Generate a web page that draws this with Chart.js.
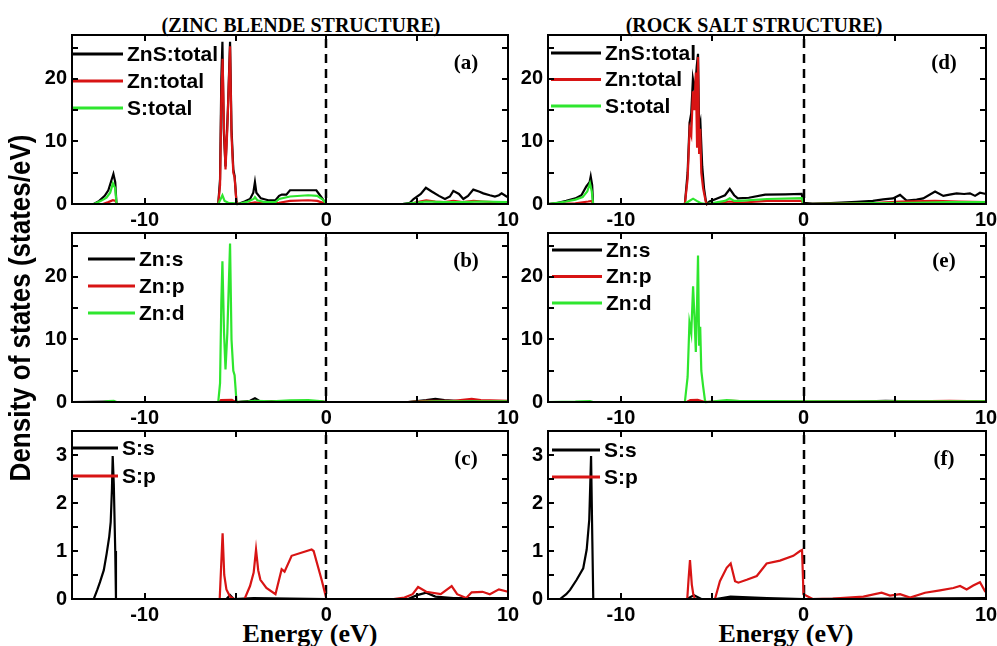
<!DOCTYPE html>
<html>
<head>
<meta charset="utf-8">
<script src="https://cdn.jsdelivr.net/npm/chart.js@4.4.1/dist/chart.umd.min.js"></script>
<style>
  body { margin: 0; background: #fff; }
  #page { position: relative; width: 997px; height: 646px; overflow: hidden; }
  canvas { position: absolute; }
  .txt { position: absolute; white-space: nowrap; color: #000; font-weight: bold; text-align: center; }
  .serif { font-family: "Liberation Serif", "Times New Roman", serif; }
  .frame { position: absolute; box-sizing: border-box; border: 2px solid #000; pointer-events: none; z-index: 5; }
  .tick { position: absolute; background: #000; pointer-events: none; z-index: 5; }
</style>
</head>
<body>
<div id="page">
  <div class="txt serif" style="left:101px; width:400px; top:14px; height:22px; line-height:22px; font-size:20px;">(ZINC BLENDE STRUCTURE)</div>
  <div class="txt serif" style="left:554px; width:400px; top:14px; height:22px; line-height:22px; font-size:20px;">(ROCK SALT STRUCTURE)</div>
  <div class="txt serif" style="left:160px; width:300px; top:619px; height:30px; line-height:30px; font-size:26px;">Energy (eV)</div>
  <div class="txt serif" style="left:636px; width:300px; top:619px; height:30px; line-height:30px; font-size:26px;">Energy (eV)</div>
  <canvas id="ylab" width="42" height="646" style="left:1px; top:0px;"></canvas>
</div>
<script>
// energy window (eV)
const energyMin = -14;
const energyMax = 10;
const energyTicks = [-10, -5, 0, 5, 10];
const yTitle = 'Density of states (states/eV)';

// ---- zinc blende: totals (a) ----
const zbZnSTotal = [[-14,0],[-12.8,0],[-12.5,0.5],[-12.2,1.3],[-12.0,2.2],[-11.85,3.6],[-11.72,4.8],[-11.62,3.5],[-11.55,0],
  [-5.95,0],[-5.85,4],[-5.78,20],[-5.72,25.9],[-5.65,12],[-5.55,6],[-5.42,15],[-5.3,25.9],[-5.22,12],[-5.12,5.5],[-5.05,4.5],[-4.95,0.5],[-4.9,0],
  [-4.75,0.1],[-4.5,0.4],[-4.2,0.8],[-4.02,1.8],[-3.93,3.5],[-3.85,1.8],[-3.6,0.9],[-3.2,0.6],[-2.8,0.6],[-2.6,1.3],[-2.45,1.5],[-2.2,1.5],[-2.0,2.2],
  [-1.0,2.2],[-0.55,2.2],[-0.3,1.2],[-0.08,0.3],[0,0],[4.2,0],[4.6,0.2],[4.8,0.8],[5.2,1.6],[5.48,2.6],[5.8,2.0],[6.2,1.3],[6.53,0.8],[6.8,1.2],
  [6.99,2.1],[7.3,1.6],[7.54,0.8],[7.8,1.3],[8.09,2.3],[8.4,2.0],[8.64,1.7],[9.0,1.4],[9.28,1.2],[9.5,1.4],[9.65,1.7],[9.92,1.2],[10,1.1]];
const zbZnTotal = [[-14,0],[-12.3,0],[-12.0,0.3],[-11.75,0.6],[-11.6,0.5],[-11.55,0],
  [-5.95,0],[-5.85,3],[-5.78,17],[-5.71,23.2],[-5.63,12],[-5.55,5.5],[-5.45,12],[-5.3,25.2],[-5.22,11],[-5.12,5],[-5.05,4.3],[-4.95,0.3],[-4.9,0],
  [-4.3,0.05],[-3.93,0.25],[-3.5,0.1],[-2.6,0.2],[-2.0,0.5],[-1.0,0.6],[-0.5,0.5],[-0.1,0.1],[0,0],
  [4.6,0],[5.0,0.3],[5.5,0.6],[6.0,0.4],[6.5,0.3],[7.0,0.5],[7.5,0.3],[8.1,0.5],[8.6,0.4],[9.2,0.3],[10,0.3]];
const zbSTotal = [[-14,0],[-12.8,0],[-12.4,0.5],[-12.1,1.0],[-11.9,1.8],[-11.75,3.3],[-11.62,2.5],[-11.55,0],
  [-5.95,0],[-5.85,0.6],[-5.72,1.4],[-5.6,0.5],[-5.4,0.2],[-5.0,0.1],[-4.9,0],[-4.7,0.1],[-4.3,0.4],[-4.0,0.8],[-3.93,1.1],[-3.8,0.6],
  [-3.4,0.3],[-2.8,0.3],[-2.6,0.8],[-2.0,1.2],[-1.0,1.4],[-0.5,1.3],[-0.2,0.7],[0,0],[4.2,0],[4.6,0.1],[5.5,0.4],[6.5,0.3],[7.5,0.3],[8.5,0.4],[10,0.3]];

// ---- zinc blende: Zn partials (b) ----
const zbZnS = [[-14,0],[-12,0.05],[-11.6,0],[-5.9,0],[-5.5,0.1],[-4.9,0],[-4.2,0.2],[-3.93,0.6],[-3.7,0.2],[-2,0.1],[0,0],
  [4.5,0],[5.5,0.3],[6.0,0.5],[6.5,0.3],[7.5,0.1],[10,0.1]];
const zbZnP = [[-14,0],[-11.6,0],[-5.9,0],[-5.8,0.3],[-5.2,0.35],[-5.0,0],[-2,0.1],[-0.5,0.15],[0,0],
  [4.5,0],[5.5,0.2],[7,0.2],[8.0,0.5],[8.5,0.3],[10,0.2]];
const zbZnD = [[-14,0],[-12.3,0],[-12.0,0.15],[-11.7,0.2],[-11.55,0],
  [-5.95,0],[-5.85,3],[-5.78,16],[-5.72,22.5],[-5.63,11],[-5.55,5.2],[-5.45,11],[-5.3,25.3],[-5.22,10],[-5.12,5],[-5.05,4.3],[-4.95,0.3],[-4.9,0],
  [-4.3,0.1],[-3.9,0.2],[-3.0,0.1],[-2.0,0.25],[-1.0,0.3],[-0.2,0.1],[0,0],[4.5,0],[6,0.1],[10,0.1]];

// ---- zinc blende: S partials (c) ----
const zbSS = [[-14,0],[-12.8,0],[-12.6,0.2],[-12.46,0.35],[-12.25,0.6],[-12.09,0.95],[-11.95,1.3],[-11.87,1.6],[-11.8,2.3],[-11.76,2.98],
  [-11.7,2.4],[-11.62,1.0],[-11.58,0],[-5.5,0],[-5.3,0.08],[-5.1,0],[-4,0.02],[0,0],[4.5,0],[5.0,0.08],[5.5,0.13],[6.0,0.05],[7,0.02],[10,0.02]];
const zbSP = [[-14,0],[-5.87,0],[-5.8,0.6],[-5.71,1.37],[-5.62,0.5],[-5.5,0.2],[-5.3,0.05],[-5.07,0],
  [-4.5,0],[-4.2,0.27],[-4.0,0.55],[-3.87,1.03],[-3.75,0.6],[-3.63,0.4],[-3.3,0.23],[-2.8,0.1],[-2.46,0.62],[-2.3,0.57],[-1.91,0.9],
  [-0.81,1.03],[-0.7,1.0],[-0.26,0.4],[-0.06,0.1],[0,0],[3.7,0],[4.3,0.03],[4.75,0.1],[5.05,0.25],[5.5,0.15],[6.3,0.1],[6.9,0.27],
  [7.2,0.1],[7.7,0.02],[8.0,0.14],[8.6,0.15],[9.0,0.1],[9.5,0.2],[10,0.15]];

// ---- rock salt: totals (d) ----
const rsZnSTotal = [[-14,0],[-13.5,0.15],[-13,0.5],[-12.5,0.9],[-12.17,1.4],[-11.9,2.8],[-11.72,3.5],[-11.66,4.4],[-11.58,3],[-11.53,0],
  [-6.5,0],[-6.35,5],[-6.24,13],[-6.15,14.5],[-6.06,20],[-5.95,18],[-5.85,22],[-5.78,24],[-5.72,12],[-5.65,13],[-5.55,6],[-5.45,2.5],[-5.35,0.5],[-5.3,0],
  [-5.15,0.4],[-4.8,0.8],[-4.3,1.4],[-4.04,2.4],[-3.8,1.4],[-3.6,0.9],[-3.0,1.0],[-2.1,1.5],[-1,1.55],[-0.1,1.6],[0,0.2],[0.5,0.05],
  [1.5,0.15],[2.91,0.35],[3.8,0.5],[4.37,0.75],[4.9,0.9],[5.29,1.45],[5.65,0.55],[6.2,0.7],[6.56,0.9],[7.21,2.0],[7.66,1.3],[8.0,1.5],
  [8.39,1.7],[8.8,1.6],[9.12,1.7],[9.4,1.3],[9.67,1.8],[10,1.6]];
const rsZnTotal = [[-14,0],[-12.5,0.1],[-11.8,0.4],[-11.6,0.5],[-11.53,0],
  [-6.5,0],[-6.35,4],[-6.24,12],[-6.15,11],[-6.06,18],[-5.98,15],[-5.9,21],[-5.83,9],[-5.78,23.5],[-5.72,8],[-5.66,12],[-5.6,5],[-5.5,2.5],[-5.35,0.3],[-5.3,0],
  [-4.9,0.1],[-4.04,0.4],[-3.5,0.2],[-2,0.5],[-0.1,0.5],[0,0],[2,0.05],[4,0.2],[5.3,0.4],[7.2,0.5],[8.5,0.4],[10,0.3]];
const rsSTotal = [[-14,0],[-13,0.4],[-12.5,0.7],[-12.1,1.1],[-11.85,2.0],[-11.7,3.3],[-11.6,2],[-11.53,0],
  [-6.5,0],[-6.3,0.4],[-6.05,0.85],[-5.85,0.5],[-5.6,0.1],[-5.3,0],[-4.9,0.2],[-4.3,0.5],[-4.04,0.9],[-3.8,0.5],[-3.5,0.5],[-2,0.8],[-0.1,0.95],[0,0],
  [2,0.05],[4,0.15],[6,0.2],[8,0.3],[10,0.3]];

// ---- rock salt: Zn partials (e) ----
const rsZnS = [[-14,0],[-6.4,0],[-6.0,0.1],[-5.4,0],[0,0],[3,0.05],[4.5,0.2],[6,0.1],[10,0.05]];
const rsZnP = [[-14,0],[-6.4,0],[-6.2,0.3],[-5.8,0.35],[-5.4,0],[-4.5,0.1],[-4,0.2],[-3,0.1],[0,0.05],[6,0.1],[8,0.2],[10,0.1]];
const rsZnD = [[-14,0],[-12.5,0.05],[-11.7,0.15],[-11.53,0],
  [-6.5,0],[-6.35,4],[-6.25,12.7],[-6.15,11],[-6.05,18.5],[-5.98,14],[-5.9,8],[-5.83,16],[-5.78,23.4],[-5.72,9],[-5.66,12],[-5.6,5],[-5.5,2.5],[-5.4,0.3],[-5.35,0],
  [-4.9,0.1],[-4.2,0.3],[-3.5,0.15],[-2,0.15],[0,0.1],[4,0.1],[10,0.1]];

// ---- rock salt: S partials (f) ----
const rsSS = [[-14,0],[-13.34,0],[-13.0,0.1],[-12.79,0.19],[-12.43,0.4],[-12.07,0.64],[-11.88,1.03],[-11.74,1.65],[-11.64,2.98],[-11.57,1.2],[-11.52,0],
  [-6.4,0],[-6.0,0.08],[-5.6,0],[-4.8,0],[-4,0.05],[-2,0.02],[0,0],[10,0.02]];
const rsSP = [[-14,0],[-6.37,0],[-6.3,0.4],[-6.22,0.81],[-6.12,0.3],[-6.04,0.1],[-5.95,0],
  [-4.85,0],[-4.58,0.37],[-4.21,0.65],[-3.99,0.74],[-3.75,0.37],[-3.57,0.34],[-3.11,0.4],[-2.56,0.48],[-2.02,0.74],[-1.29,0.8],[-0.56,0.9],
  [-0.19,1.0],[-0.08,1.02],[0,0.1],[0.5,0],[1.6,0.01],[3.28,0.05],[4.28,0.13],[4.74,0.07],[5.29,0.1],[5.84,0.03],[6.66,0.13],[7.48,0.18],
  [8.21,0.23],[8.58,0.27],[8.94,0.2],[9.3,0.28],[9.67,0.35],[9.95,0.16],[10,0.15]];

const black = '#000000';
const red = '#d81414';
const green = '#2ee62e';

// left column: chart area x 72..508, right column: 548..986
const leftCol = { left: 30, width: 491, yWidth: 42, padRight: 13 };
const rightCol = { left: 521, width: 476, yWidth: 27, padRight: 11 };
// rows: chart area y 35..204, 233..402, 431..599
const rows = [{ top: 30, padTop: 5, height: 200 }, { top: 230, padTop: 3, height: 198 }, { top: 428, padTop: 3, height: 197 }];

const panels = [
  { tag: '(a)', col: leftCol, row: rows[0], yMax: 27, yStep: 5, yLabelEvery: 10,
    legend: { dx: 0, y0: 19, gap: 27, len: 51 },
    series: [['ZnS:total', zbZnSTotal, black], ['Zn:total', zbZnTotal, red], ['S:total', zbSTotal, green]] },
  { tag: '(b)', col: leftCol, row: rows[1], yMax: 27, yStep: 5, yLabelEvery: 10,
    legend: { dx: 16, y0: 26, gap: 27, len: 47 },
    series: [['Zn:s', zbZnS, black], ['Zn:p', zbZnP, red], ['Zn:d', zbZnD, green]] },
  { tag: '(c)', col: leftCol, row: rows[2], yMax: 3.5, yStep: 0.5, yLabelEvery: 1,
    legend: { dx: 0, y0: 17, gap: 28, len: 46 },
    series: [['S:s', zbSS, black], ['S:p', zbSP, red]] },
  { tag: '(d)', col: rightCol, row: rows[0], yMax: 27, yStep: 5, yLabelEvery: 10,
    legend: { dx: 3, y0: 18, gap: 26.5, len: 50 },
    series: [['ZnS:total', rsZnSTotal, black], ['Zn:total', rsZnTotal, red], ['S:total', rsSTotal, green]] },
  { tag: '(e)', col: rightCol, row: rows[1], yMax: 27, yStep: 5, yLabelEvery: 10,
    legend: { dx: 4, y0: 17, gap: 26.5, len: 50 },
    series: [['Zn:s', rsZnS, black], ['Zn:p', rsZnP, red], ['Zn:d', rsZnD, green]] },
  { tag: '(f)', col: rightCol, row: rows[2], yMax: 3.5, yStep: 0.5, yLabelEvery: 1,
    legend: { dx: 4, y0: 19, gap: 27, len: 48 },
    series: [['S:s', rsSS, black], ['S:p', rsSP, red]] }
];

const tickFont = { family: '"Liberation Sans", Arial, sans-serif', size: 20, weight: 'bold' };

// shared y title, drawn rotated on its own canvas
(function () {
  const c = document.getElementById('ylab').getContext('2d');
  c.save();
  c.translate(21, 308);
  c.rotate(-Math.PI / 2);
  c.scale(1, 1.12);
  c.font = 'bold 26px "Liberation Sans", Arial, sans-serif';
  c.textAlign = 'center';
  c.textBaseline = 'middle';
  c.fillStyle = '#000';
  c.fillText(yTitle, 0, 0);
  c.restore();
})();

const decorPlugin = {
  id: 'decor',
  // dashed Fermi level line behind the curves
  beforeDatasetsDraw(chart) {
    const { ctx, chartArea: a, scales: { x } } = chart;
    const x0 = Math.round(x.getPixelForValue(0));
    ctx.save();
    ctx.strokeStyle = '#000';
    ctx.lineWidth = 2.5;
    ctx.setLineDash([9, 6]);
    ctx.beginPath();
    ctx.moveTo(x0, a.top + 4);
    ctx.lineTo(x0, a.bottom);
    ctx.stroke();
    ctx.restore();
  },
  // box, inward ticks, legend and panel tag on top
  afterDraw(chart, args, opts) {
    const ctx = chart.ctx;
    const a = chart.chartArea;
    const xs = chart.scales.x, ys = chart.scales.y;
    const L = Math.round(a.left), T = Math.round(a.top), R = Math.round(a.right), B = Math.round(a.bottom);
    ctx.save();
    ctx.fillStyle = '#000';
    ctx.fillRect(L - 1, T - 1, R - L + 2, 2);
    ctx.fillRect(L - 1, B - 1, R - L + 2, 2);
    ctx.fillRect(L - 1, T - 1, 2, B - T + 2);
    ctx.fillRect(R - 1, T - 1, 2, B - T + 2);
    energyTicks.forEach(v => {
      const px = Math.round(xs.getPixelForValue(v));
      if (px <= L + 1 || px >= R - 1) return;
      ctx.fillRect(px - 1, B - 6, 2, 6);
      ctx.fillRect(px - 1, T, 2, 6);
    });
    ys.ticks.forEach(t => {
      const py = Math.round(ys.getPixelForValue(t.value));
      if (py >= B - 1 || py <= T + 1) return;
      ctx.fillRect(L, py - 1, 6, 2);
      ctx.fillRect(R - 6, py - 1, 6, 2);
    });
    ctx.restore();

    const lg = opts.legend;
    ctx.save();
    ctx.font = 'bold 21px "Liberation Sans", Arial, sans-serif';
    ctx.textBaseline = 'middle';
    ctx.textAlign = 'left';
    chart.data.datasets.forEach((ds, i) => {
      const yy = a.top + lg.y0 + i * lg.gap;
      const xx = a.left + lg.dx;
      ctx.strokeStyle = ds.borderColor;
      ctx.lineWidth = 3;
      ctx.beginPath();
      ctx.moveTo(xx, yy); ctx.lineTo(xx + lg.len, yy);
      ctx.stroke();
      ctx.fillStyle = '#000';
      ctx.fillText(ds.label, xx + lg.len + 4, yy + 1);
    });
    ctx.font = 'bold 21px "Liberation Serif", "Times New Roman", serif';
    ctx.textAlign = 'center';
    ctx.fillText(opts.tag, a.right - 42, a.top + 29);
    ctx.restore();
  }
};

const page = document.getElementById('page');

// the same box and inward ticks as overlay elements, placed from the chart's own scales
function addFrame(chart, offX, offY) {
  const a = chart.chartArea;
  if (!a) return;
  const xs = chart.scales.x, ys = chart.scales.y;
  const L = Math.round(a.left) + offX, T = Math.round(a.top) + offY;
  const R = Math.round(a.right) + offX, B = Math.round(a.bottom) + offY;
  const box = document.createElement('div');
  box.className = 'frame';
  box.style.left = (L - 1) + 'px';
  box.style.top = (T - 1) + 'px';
  box.style.width = (R - L + 2) + 'px';
  box.style.height = (B - T + 2) + 'px';
  page.appendChild(box);
  const tick = (x, y, w, h) => {
    const d = document.createElement('div');
    d.className = 'tick';
    d.style.left = x + 'px'; d.style.top = y + 'px';
    d.style.width = w + 'px'; d.style.height = h + 'px';
    page.appendChild(d);
  };
  energyTicks.forEach(v => {
    const px = Math.round(xs.getPixelForValue(v)) + offX;
    if (px <= L + 1 || px >= R - 1) return;
    tick(px - 1, B - 6, 2, 6);
    tick(px - 1, T, 2, 6);
  });
  ys.ticks.forEach(t => {
    const py = Math.round(ys.getPixelForValue(t.value)) + offY;
    if (py >= B - 1 || py <= T + 1) return;
    tick(L, py - 1, 6, 2);
    tick(R - 6, py - 1, 6, 2);
  });
}

panels.forEach(p => {
  const canvas = document.createElement('canvas');
  canvas.width = p.col.width;
  canvas.height = p.row.height;
  canvas.style.left = p.col.left + 'px';
  canvas.style.top = p.row.top + 'px';
  page.appendChild(canvas);

  const n = p.series.length;
  const datasets = p.series.map((s, i) => ({
    label: s[0],
    data: s[1].map(pt => ({ x: pt[0], y: pt[1] })),
    borderColor: s[2],
    borderWidth: 2.2,
    pointRadius: 0,
    tension: 0,
    fill: false,
    clip: 3,
    order: n - i   // later series drawn on top
  }));

  const frameBorder = { display: true, color: '#000', width: 2 };

  const chart = new Chart(canvas, {
    type: 'line',
    data: { datasets: datasets },
    plugins: [decorPlugin],
    options: {
      responsive: false,
      animation: false,
      devicePixelRatio: 1,
      layout: { padding: { top: p.row.padTop, right: p.col.padRight, left: 0, bottom: 0 } },
      plugins: {
        legend: { display: false },
        tooltip: { enabled: false },
        decor: { tag: p.tag, legend: p.legend }
      },
      scales: {
        x: {
          type: 'linear',
          min: energyMin,
          max: energyMax,
          afterBuildTicks: scale => { scale.ticks = energyTicks.map(v => ({ value: v })); },
          afterFit: scale => { scale.height = 26; scale.paddingLeft = 0; scale.paddingRight = 0; },
          grid: { drawOnChartArea: false, drawTicks: false },
          border: frameBorder,
          ticks: {
            color: '#000', font: tickFont, padding: 4, maxRotation: 0, autoSkip: false,
            callback: v => (v % 10 === 0 ? String(v) : '')
          }
        },
        y: {
          min: 0,
          max: p.yMax,
          afterBuildTicks: scale => {
            const ticks = [];
            for (let v = 0; v <= p.yMax + 1e-9; v += p.yStep) ticks.push({ value: Math.round(v * 100) / 100 });
            scale.ticks = ticks;
          },
          afterFit: scale => { scale.width = p.col.yWidth; scale.paddingTop = 0; scale.paddingBottom = 0; },
          grid: { drawOnChartArea: false, drawTicks: false },
          border: frameBorder,
          ticks: {
            color: '#000', font: tickFont, padding: 5, autoSkip: false,
            callback: v => (Math.abs(v / p.yLabelEvery - Math.round(v / p.yLabelEvery)) < 1e-6 ? String(v) : '')
          }
        }
      }
    }
  });

  addFrame(chart, p.col.left, p.row.top);
});
</script>
</body>
</html>
